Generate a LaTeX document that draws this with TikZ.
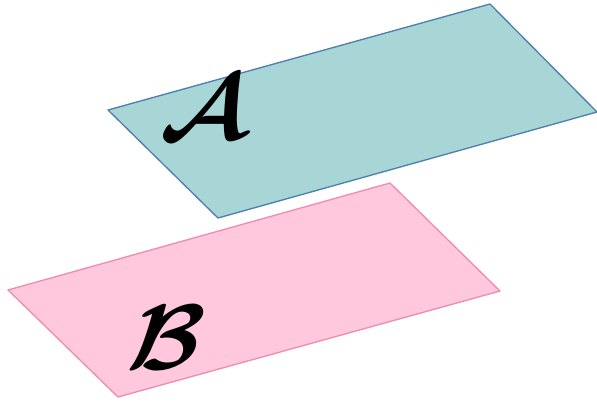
\documentclass[tikz,border=0pt]{standalone}
\usepackage{amsmath,amssymb,bm}
\usetikzlibrary{positioning}
\definecolor{planeA}{HTML}{A8D5D5}
\definecolor{planeAedge}{HTML}{4E7FAE}
\definecolor{planeB}{HTML}{FFC8DC}
\definecolor{planeBedge}{HTML}{F08CB0}

\begin{document}
\begin{tikzpicture}[x=0.75pt, y=-0.75pt,
  plane/.style={line width=1pt, line join=round},
  lbl/.style={inner sep=0pt, font=\Huge, scale=2.8, xslant=0.15}]
\useasboundingbox (0,0) rectangle (597,401);
% upper plane
\draw[plane, fill=planeA, draw=planeAedge]
  (108,110) -- (490,4) -- (597,112) -- (218,218) -- cycle;
% lower plane
\draw[plane, fill=planeB, draw=planeBedge]
  (8,290) -- (390,183) -- (500,291) -- (118,397) -- cycle;
\node[lbl] (a) at (207,108) {$\bm{\mathcal{A}}$};
\node[lbl] (b) at (167,338) {$\bm{\mathcal{B}}$};
\end{tikzpicture}
\end{document}
